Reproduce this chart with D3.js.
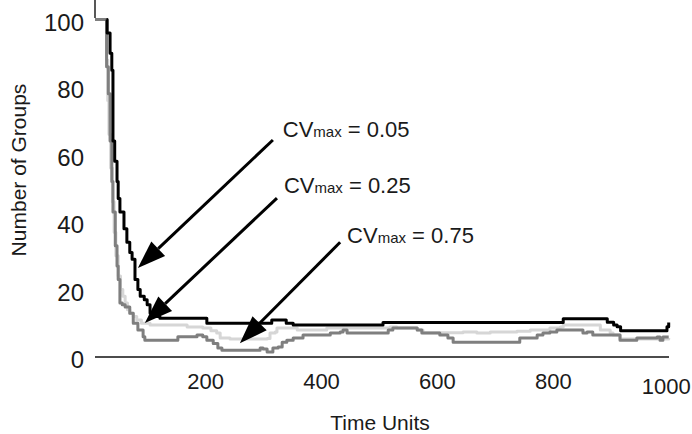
<!DOCTYPE html>
<html>
<head>
<meta charset="utf-8">
<script src="https://cdn.jsdelivr.net/npm/d3@7.9.0/dist/d3.min.js"></script>
<style>
  body { margin: 0; background: #fff; }
  svg { display: block; font-family: "Liberation Sans", Arial, sans-serif; }
  .axis path { stroke: #111; stroke-width: 1.4px; }
  .axis text { fill: #1a1a1a; }
</style>
</head>
<body>
<svg width="692" height="434"></svg>
<script>
// values: [time, groups]
const cv005 = [[30,100],[31,96],[36,90],[39,85],[41,64],[44,58],[48,52],[50,47],[53,43],
  [60,38],[65,34],[70,31],[74,29],[79,23],[84,20],[88,18],[95,17],[100,15.5],[105,13],[112,12],
  [122,11.5],[203,10],[315,11],[340,10],[352,9.5],[507,10.2],[818,11.3],[894,10.3],[905,9.5],
  [911,9],[917,7.8],[994,7.8],[997,9],[1000,10.2]];

const cv025 = [[10,100],[29,100],[30,88],[32,76],[34,66],[37,56],[40,46],[43,37],[46,30],[50,24],
  [54,20],[58,18],[62,16],[66,14],[70,13],[76,12],[82,11],[90,10],[105,9.5],[169,8.9],[196,8.6],
  [210,7.8],[220,7.1],[226,5.6],[243,5.3],[307,5.5],[312,7.1],[321,7.4],[324,8.6],[359,8],
  [410,8.6],[519,8.9],[531,8.6],[566,8],[576,7.2],[645,7.4],[669,7.1],[692,7.4],[738,7.6],
  [761,8],[795,8.6],[813,8.9],[818,9.5],[882,8],[899,7.1],[904,6.5],[916,5.3],[1000,5.6]];

const cv075 = [[10,100],[29,100],[30,86],[33,78],[36,64],[39,52],[41,43],[45,33],[48,27],[50,23],
  [53,16],[57,15.5],[62,14.8],[70,13],[76,10],[84,8],[93,6],[96,5],[153,6],[186,6.5],[196,6],
  [203,5],[214,4],[222,2.7],[229,2],[295,2.7],[300,2.4],[307,1.5],[317,2.7],[326,3],[333,4.4],
  [341,5],[352,5.6],[369,6.5],[416,7.1],[433,7.4],[438,8],[445,7.1],[516,8],[524,8.6],[566,8],
  [574,7.1],[605,6.5],[619,5.6],[628,4.4],[743,5.6],[773,6.5],[783,7.1],[795,7.4],[807,8],
  [852,7.1],[859,7.4],[869,6.5],[916,5],[945,5.6],[980,5.9],[985,5],[990,5.9],[1000,5.9]];

const xTicks = [200, 400, 600, 800, 1000];
const yTicks = [0, 20, 40, 60, 80, 100];

// annotation labels and arrows, in data units
const notes = [
  { value: "0.05", at: [334, 65.2], from: [317, 64.3], to: [84, 26.4] },
  { value: "0.25", at: [336, 48.6], from: [324, 47.1], to: [96, 10.1] },
  { value: "0.75", at: [445, 33.8], from: [433, 34], to: [260, 4.1] }
];

const svg = d3.select("svg");
const x = d3.scaleLinear().domain([10, 1000]).range([95, 668.7]);
const y = d3.scaleLinear().domain([0, 100]).range([357, 19.5]);

const line = d3.line()
  .x(d => x(d[0]))
  .y(d => y(d[1]))
  .curve(d3.curveStepAfter);

const series = [
  { data: cv025, color: "#d6d6d6" },
  { data: cv075, color: "#7f7f7f" },
  { data: cv005, color: "#000" }
];

series.forEach(s => {
  svg.append("path")
    .attr("d", line(s.data))
    .attr("fill", "none")
    .attr("stroke", s.color)
    .attr("stroke-width", 3)
    .attr("stroke-linejoin", "round");
});

// axes
const gx = svg.append("g")
  .attr("class", "axis")
  .attr("transform", `translate(0,${y(0)})`)
  .call(d3.axisBottom(x).tickValues(xTicks).tickFormat(d3.format("d"))
    .tickSize(0).tickSizeOuter(0).tickPadding(16.5));
gx.selectAll("text").attr("font-size", 22).attr("font-family", null);
// the last label sits a little lower, tucked against the right edge
gx.selectAll(".tick").filter(d => d === 1000).select("text").attr("y", 21.5).attr("dx", -3);

const gy = svg.append("g")
  .attr("class", "axis")
  .attr("transform", `translate(${x(10)},0)`)
  .call(d3.axisLeft(y).tickValues(yTicks).tickSize(0).tickSizeOuter(0).tickPadding(11));
gy.selectAll("text").attr("font-size", 24).attr("font-family", null).attr("dy", "0.44em");
gx.select(".domain").attr("d", `M${x(10)},0H669`);
gy.select(".domain").attr("d", `M0,0V${y(100) - 1.5}`);

// axis titles
svg.append("text")
  .attr("x", 380).attr("y", 430)
  .attr("text-anchor", "middle")
  .attr("font-size", 21).attr("fill", "#1a1a1a")
  .text("Time Units");

svg.append("text")
  .attr("transform", "translate(26,170) rotate(-90)")
  .attr("text-anchor", "middle")
  .attr("font-size", 21).attr("fill", "#1a1a1a")
  .text("Number of Groups");

// arrows and labels
const headLen = 28, headHalf = 10;
notes.forEach(n => {
  const x1 = x(n.from[0]), y1 = y(n.from[1]);
  const x2 = x(n.to[0]), y2 = y(n.to[1]);
  const ang = Math.atan2(y2 - y1, x2 - x1);
  const bx = x2 - headLen * Math.cos(ang), by = y2 - headLen * Math.sin(ang);
  svg.append("line")
    .attr("x1", x1).attr("y1", y1).attr("x2", bx).attr("y2", by)
    .attr("stroke", "#000").attr("stroke-width", 3);
  const px = -Math.sin(ang) * headHalf, py = Math.cos(ang) * headHalf;
  svg.append("path")
    .attr("d", `M${x2},${y2}L${bx + px},${by + py}L${bx - px},${by - py}Z`)
    .attr("fill", "#000");

  const t = svg.append("text")
    .attr("x", x(n.at[0])).attr("y", y(n.at[1]))
    .attr("font-size", 22).attr("fill", "#1a1a1a");
  t.append("tspan").text("CV");
  t.append("tspan").attr("font-size", 15).text("max");
  t.append("tspan").text(" = " + n.value);
});
</script>
</body>
</html>
